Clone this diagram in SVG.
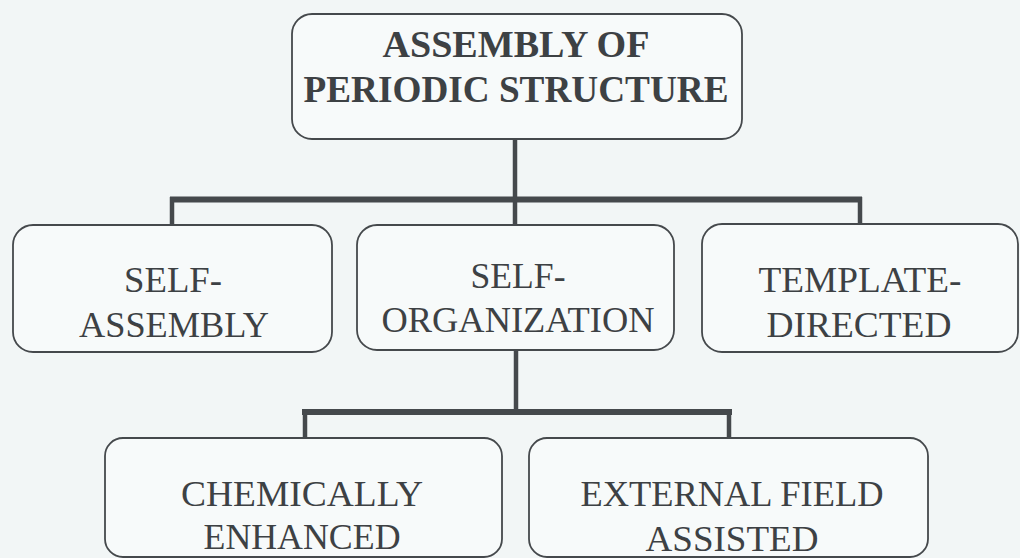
<svg xmlns="http://www.w3.org/2000/svg" width="1020" height="558" viewBox="0 0 1020 558">
<style>
.box{fill:#f7fafa;stroke:#45494c;stroke-width:1.8}
.t{font-family:"Liberation Serif",Tinos,"Times New Roman",Times,"Noto Serif","DejaVu Serif",serif;fill:#3d4144;text-anchor:middle}
.b{font-weight:bold;font-size:37px}
.r{font-size:36px}
.c{stroke:#45494c;fill:none;stroke-linecap:butt}
.h{stroke-width:6}
.v{stroke-width:4.5}
</style>
<rect width="1020" height="558" fill="#f2f6f6"/>
<g id="connectors">
<line class="c v" x1="515" y1="139" x2="515" y2="225"/>
<line class="c h" x1="170" y1="199.5" x2="862" y2="199.5"/>
<line class="c v" x1="172" y1="197" x2="172" y2="225"/>
<line class="c v" x1="860" y1="197" x2="860" y2="224"/>
<line class="c v" x1="516" y1="350" x2="516" y2="415"/>
<line class="c h" x1="302" y1="412" x2="732" y2="412"/>
<line class="c v" x1="305" y1="410" x2="305" y2="438"/>
<line class="c v" x1="729" y1="410" x2="729" y2="438"/>
</g>
<g id="root">
<rect class="box" x="292" y="14" width="450" height="125" rx="20"/>
<text class="t b" x="516" y="57" textLength="267" lengthAdjust="spacingAndGlyphs">ASSEMBLY OF</text>
<text class="t b" x="516" y="102" textLength="425" lengthAdjust="spacingAndGlyphs">PERIODIC STRUCTURE</text>
</g>
<g id="self-assembly">
<rect class="box" x="13" y="225" width="319" height="127" rx="20"/>
<text class="t r" x="173" y="292" textLength="98" lengthAdjust="spacingAndGlyphs">SELF-</text>
<text class="t r" x="174" y="337" textLength="190" lengthAdjust="spacingAndGlyphs">ASSEMBLY</text>
</g>
<g id="self-organization">
<rect class="box" x="357" y="225" width="317" height="125" rx="20"/>
<text class="t r" x="518" y="288" textLength="95" lengthAdjust="spacingAndGlyphs">SELF-</text>
<text class="t r" x="518" y="332" textLength="273" lengthAdjust="spacingAndGlyphs">ORGANIZATION</text>
</g>
<g id="template-directed">
<rect class="box" x="702" y="224" width="316" height="128" rx="20"/>
<text class="t r" x="860" y="292" textLength="203" lengthAdjust="spacingAndGlyphs">TEMPLATE-</text>
<text class="t r" x="859" y="337" textLength="185" lengthAdjust="spacingAndGlyphs">DIRECTED</text>
</g>
<g id="chemically-enhanced">
<rect class="box" x="105" y="438" width="397" height="119" rx="18"/>
<text class="t r" x="302" y="506" textLength="242" lengthAdjust="spacingAndGlyphs">CHEMICALLY</text>
<text class="t r" x="302" y="549" textLength="197" lengthAdjust="spacingAndGlyphs">ENHANCED</text>
</g>
<g id="external-field-assisted">
<rect class="box" x="529" y="438" width="399" height="119" rx="18"/>
<text class="t r" x="732" y="506" textLength="303" lengthAdjust="spacingAndGlyphs">EXTERNAL FIELD</text>
<text class="t r" x="732" y="551" textLength="173" lengthAdjust="spacingAndGlyphs">ASSISTED</text>
</g>
</svg>
